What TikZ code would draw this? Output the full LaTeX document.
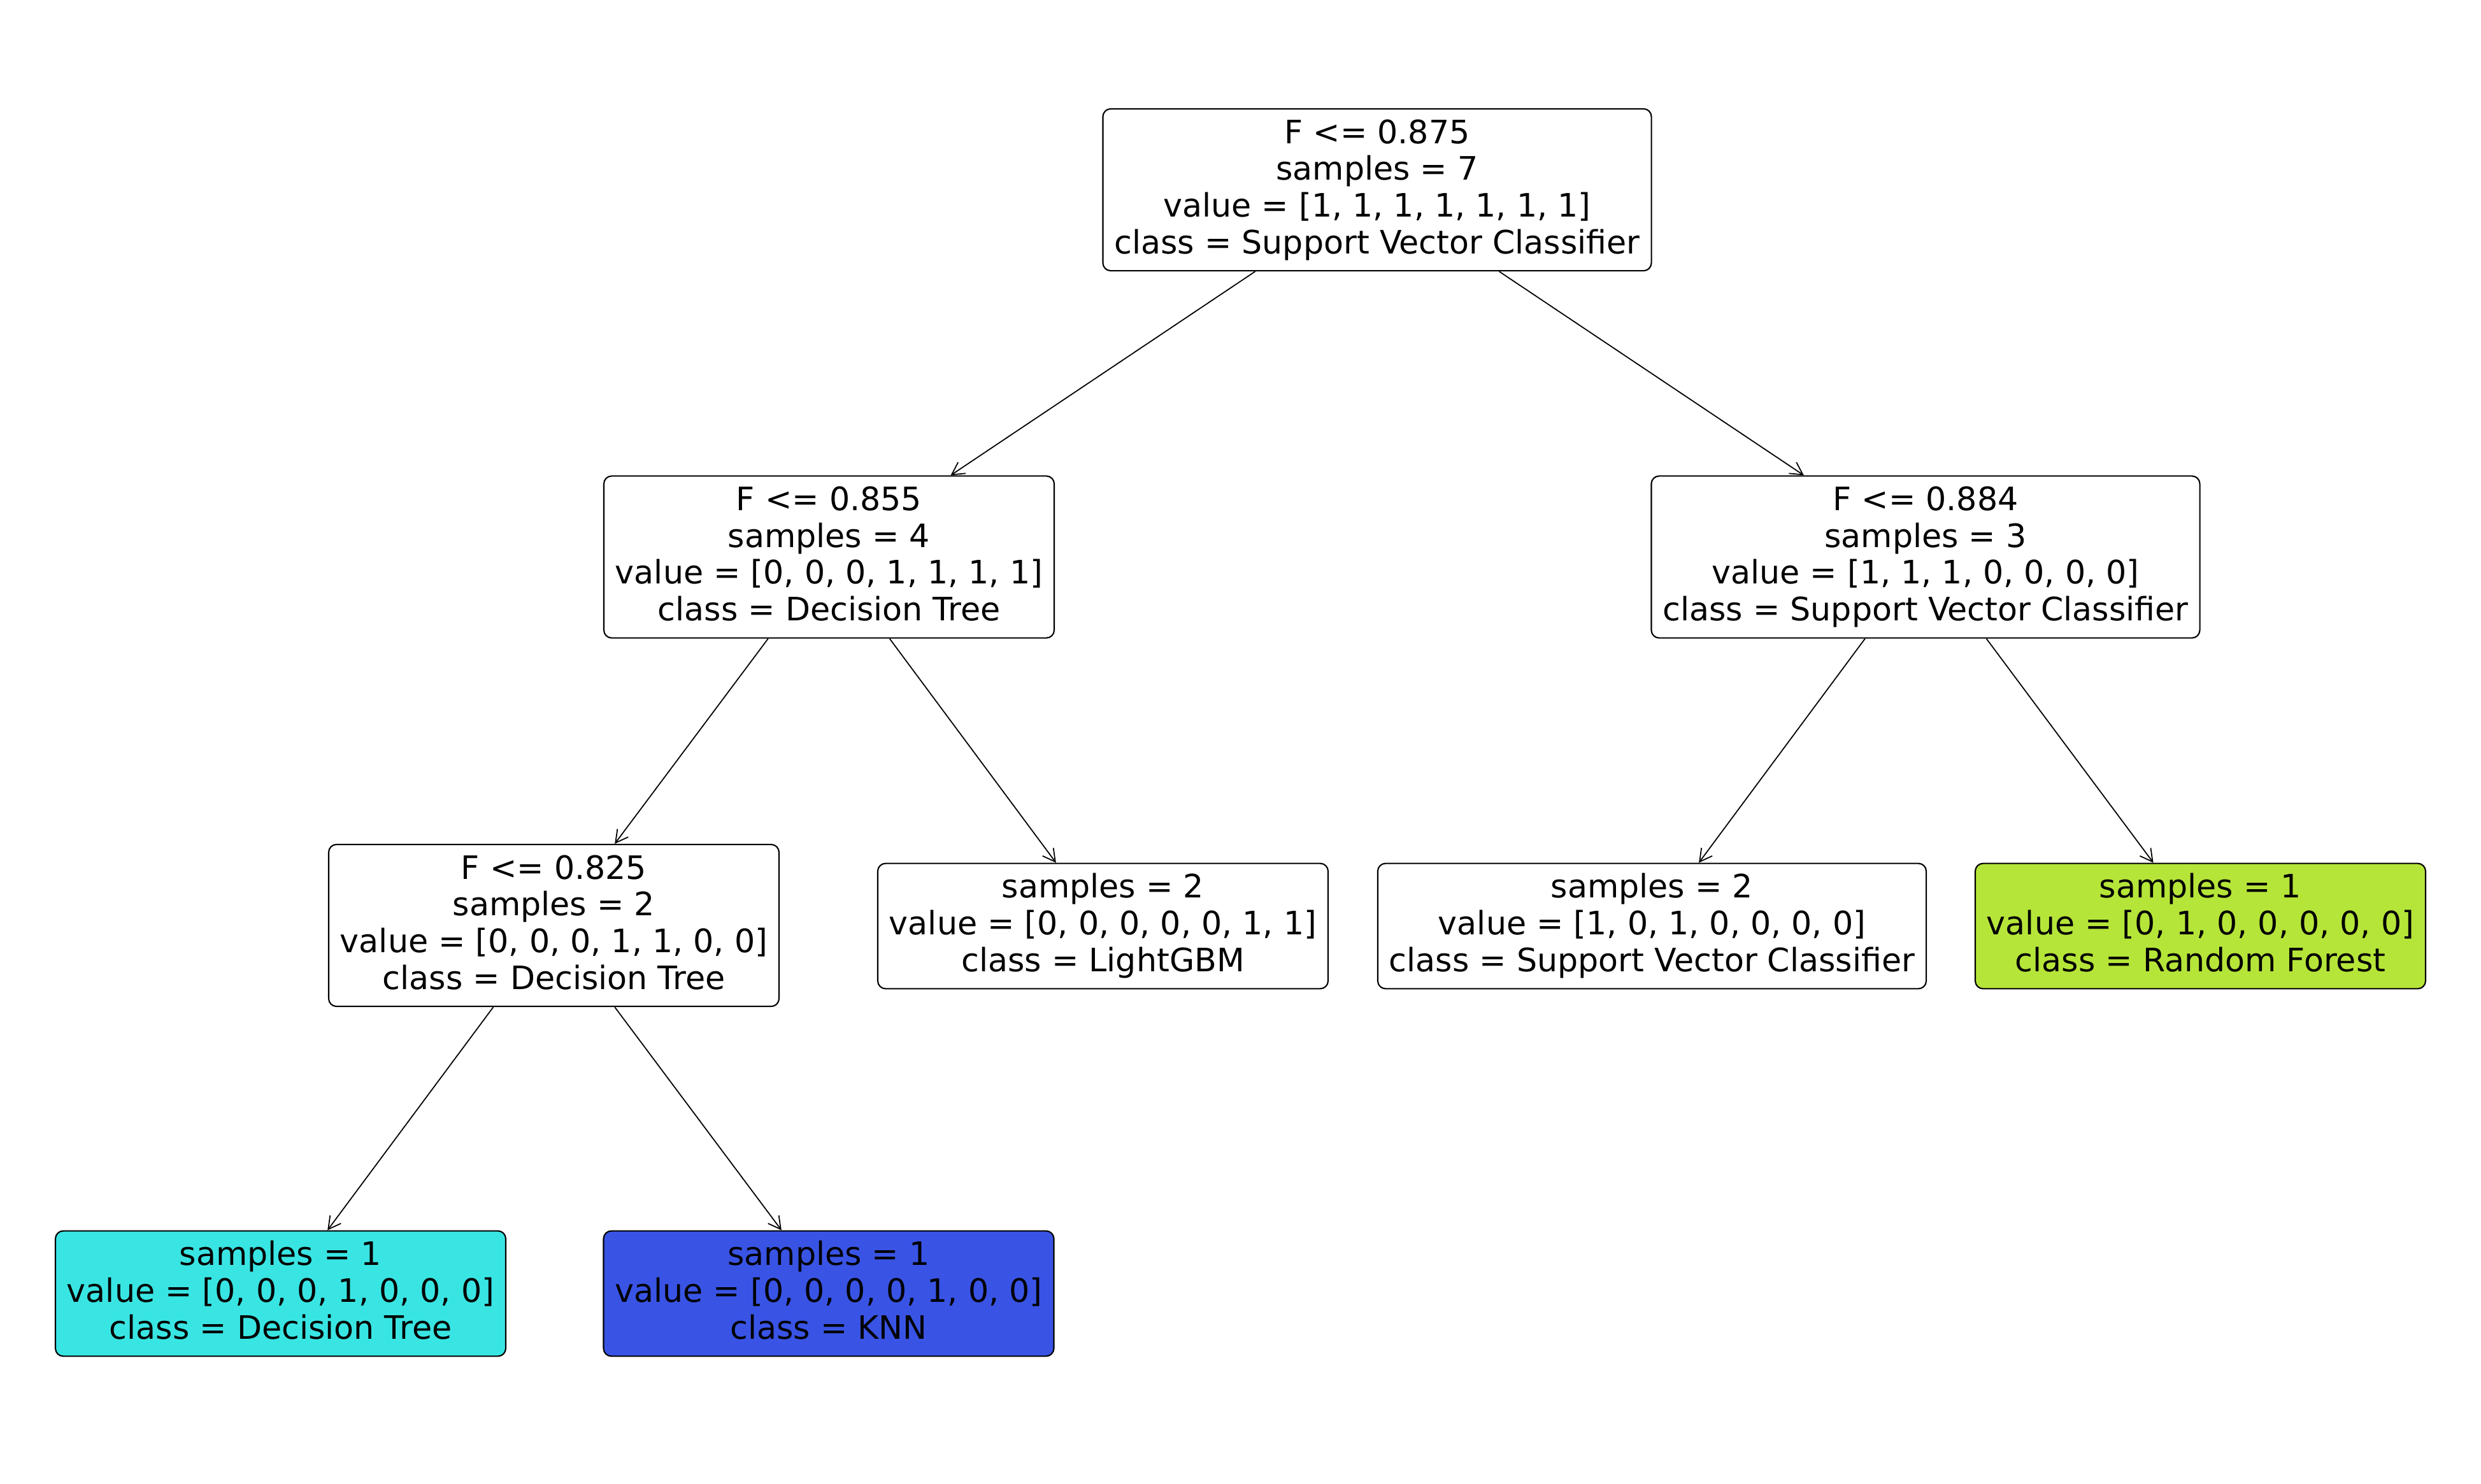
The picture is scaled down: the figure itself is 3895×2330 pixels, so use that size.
\documentclass[tikz,border=0pt]{standalone}
\usepackage{fontspec}
\setmainfont{DejaVu Sans}
\usetikzlibrary{arrows.meta}
\definecolor{dtcol}{HTML}{39E5E3}
\definecolor{knncol}{HTML}{3954E5}
\definecolor{rfcol}{HTML}{B6E539}
\newcommand\hs{\rule[-3.2pt]{0pt}{14.1pt}}
\tikzset{
  treenode/.style={draw=black, line width=0.6pt, rounded corners=3.5pt, fill=white,
    align=center, inner xsep=5.1pt, inner ysep=4.5pt,
    font=\fontsize{14.4pt}{16.4pt}\selectfont},
  arr/.style={draw=black, line width=0.5pt, -{Straight Barb[length=5.5pt,width=6pt]}}
}
\begin{document}
\begin{tikzpicture}[x=0.01cm, y=-0.01cm]
\useasboundingbox (0,0) rectangle (3895,2330);
\node[treenode] (root) at (2162,298) {\hs F <= 0.875\\\hs samples = 7\\\hs value = [1, 1, 1, 1, 1, 1, 1]\\\hs class = Support Vector Classifier};
\node[treenode] (l1) at (1301.5,874.5) {\hs F <= 0.855\\\hs samples = 4\\\hs value = [0, 0, 0, 1, 1, 1, 1]\\\hs class = Decision Tree};
\node[treenode] (r1) at (3023,874.5) {\hs F <= 0.884\\\hs samples = 3\\\hs value = [1, 1, 1, 0, 0, 0, 0]\\\hs class = Support Vector Classifier};
\node[treenode] (l2) at (869.5,1453) {\hs F <= 0.825\\\hs samples = 2\\\hs value = [0, 0, 0, 1, 1, 0, 0]\\\hs class = Decision Tree};
\node[treenode] (lgbm) at (1731.5,1454) {\hs samples = 2\\\hs value = [0, 0, 0, 0, 0, 1, 1]\\\hs class = LightGBM};
\node[treenode] (svc) at (2593.5,1454) {\hs samples = 2\\\hs value = [1, 0, 1, 0, 0, 0, 0]\\\hs class = Support Vector Classifier};
\node[treenode, fill=rfcol] (rf) at (3454.5,1454) {\hs samples = 1\\\hs value = [0, 1, 0, 0, 0, 0, 0]\\\hs class = Random Forest};
\node[treenode, fill=dtcol] (dt) at (440.5,2031) {\hs samples = 1\\\hs value = [0, 0, 0, 1, 0, 0, 0]\\\hs class = Decision Tree};
\node[treenode, fill=knncol] (knn) at (1301,2031) {\hs samples = 1\\\hs value = [0, 0, 0, 0, 1, 0, 0]\\\hs class = KNN};
\draw[arr] (root) -- (l1);
\draw[arr] (root) -- (r1);
\draw[arr] (l1) -- (l2);
\draw[arr] (l1) -- (lgbm);
\draw[arr] (r1) -- (svc);
\draw[arr] (r1) -- (rf);
\draw[arr] (l2) -- (dt);
\draw[arr] (l2) -- (knn);
\end{tikzpicture}
\end{document}
